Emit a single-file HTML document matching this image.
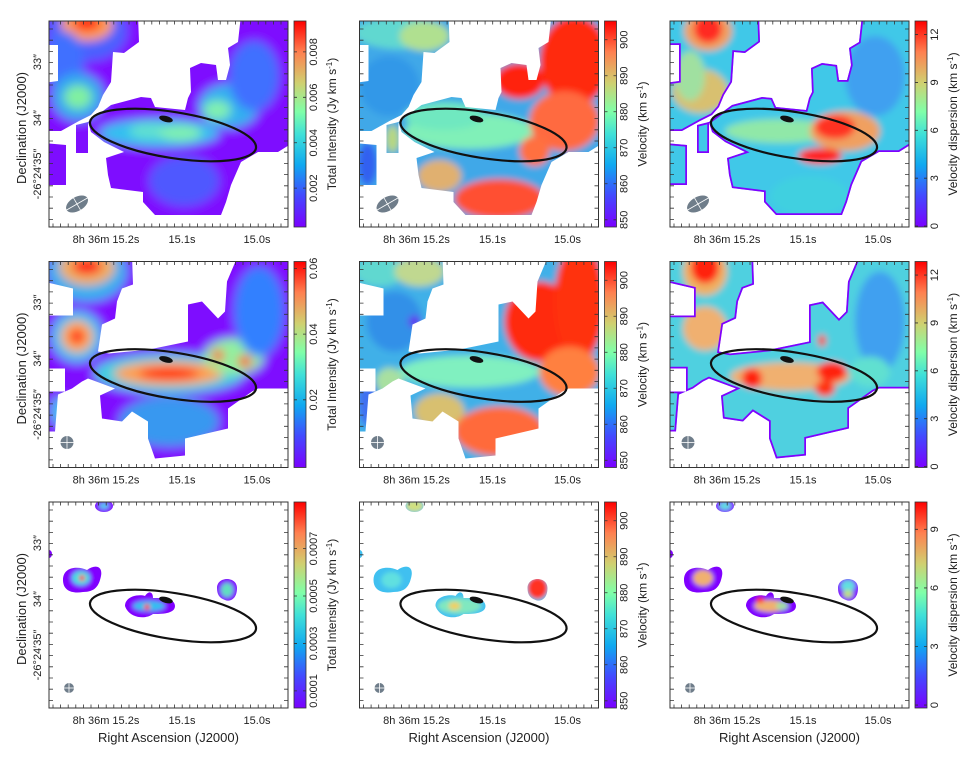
<!DOCTYPE html>
<html><head><meta charset="utf-8"><style>
html,body{margin:0;padding:0;background:#fff;}
svg{display:block;font-family:"Liberation Sans",Arial,sans-serif;}
</style></head><body>
<svg id="fig" width="969" height="761" viewBox="0 0 969 761" xmlns="http://www.w3.org/2000/svg">
<defs>
<linearGradient id="rainbow" x1="0" y1="1" x2="0" y2="0">
<stop offset="0" stop-color="#7a00ff"/><stop offset="0.15" stop-color="#4448ff"/>
<stop offset="0.3" stop-color="#10a8f0"/><stop offset="0.45" stop-color="#40e0d8"/>
<stop offset="0.56" stop-color="#80ffa8"/><stop offset="0.7" stop-color="#d0d070"/>
<stop offset="0.85" stop-color="#ff8050"/><stop offset="1" stop-color="#ff0000"/>
</linearGradient>
<filter id="blurA" x="-20%" y="-20%" width="140%" height="140%"><feGaussianBlur stdDeviation="5"/></filter>
<filter id="blurB" x="-20%" y="-20%" width="140%" height="140%"><feGaussianBlur stdDeviation="3.5"/></filter>
<filter id="blur2" x="-20%" y="-20%" width="140%" height="140%"><feGaussianBlur stdDeviation="2"/></filter>
</defs>
</svg>
<script>
// colorbar data
const intensityTicksR1 = [0.002, 0.004, 0.006, 0.008];
const intensityRangeR1 = [0.00029, 0.00936];
const intensityTicksR2 = [0.02, 0.04, 0.06];
const intensityRangeR2 = [-0.0006, 0.0621];
const intensityTicksR3 = [0.0001, 0.0003, 0.0005, 0.0007];
const intensityRangeR3 = [0.000028, 0.000896];
const velocityTicks = [850, 860, 870, 880, 890, 900];
const velocityRange = [848, 905.2];
const dispTicksR12 = [0, 3, 6, 9, 12];
const dispRangeR12 = [-0.06, 12.85];
const dispTicksR3 = [0, 3, 6, 9];
const dispRangeR3 = [-0.15, 10.4];
const raTickLabels = ["8h 36m 15.2s", "15.1s", "15.0s"];
const decTickLabels = ["33\u2033", "34\u2033", "-26\u00b024\u203235\u2033"];

const NS = "http://www.w3.org/2000/svg";
const svg = document.getElementById('fig');
function el(tag, attrs, parent){const e=document.createElementNS(NS,tag);for(const k in attrs)e.setAttribute(k,attrs[k]);(parent||svg).appendChild(e);return e;}

const X=[49,359.5,670], Y=[21,261.5,502], W=239, H=206;

const masks = [
 ["M-6,-6 H89 L90,21 L75,32 L64,31 L62,61 L54,74 L49,86 L42,94 L30,100 L12,110 L-6,110 V62 L9,60 L9,24 L-6,24 Z",
  "M27,104 L39,101 L39,132 L27,132 Z",
  "M-6,122 L17,124 L17,164 L-6,164 Z",
  "M62,84 L92,76 L102,77 L106,86 L136,89 L139,77 L142,71 L141,47 L152,42 L167,44 L169,59 L177,59 L181,44 L179,27 L189,21 L192,-6 H245 V121 L229,131 L209,131 L192,141 L182,164 L177,181 L172,194 L106,194 L94,181 L94,171 L62,167 L59,154 L57,137 L75,131 L55,121 L42,111 L39,101 Z"],
 ["M-6,-6 H83 L84,23 L73,27 L68,40 L66,57 L53,63 L49,90 L60,92 L100,88 L139,80 L139,43 L153,40 L169,57 L176,50 L178,20 L189,-6 H245 V127 L209,127 L203,130 L179,147 L179,167 L136,177 L136,194 L106,197 L99,177 L99,160 L83,150 L73,160 L53,157 L51,134 L66,127 L39,117 L33,120 L23,127 L9,133 L6,170 L-6,170 V130 L16,130 L16,107 L-6,107 V54 L24,54 L24,27 L-6,20 Z"],
 ["M46,4 a9,6 0 1,0 18,0 a9,6 0 1,0 -18,0 Z",
  "M14,78 C14,64 30,64 38,68 C46,62 54,64 52,74 C50,84 46,90 34,90 C22,92 14,88 14,78 Z",
  "M76,104 C76,94 90,92 96,94 C100,88 104,90 104,96 C112,96 126,96 126,104 C126,112 112,112 104,112 C96,118 80,116 76,104 Z",
  "M168,86 C168,74 188,74 188,86 C188,98 180,100 176,98 C170,96 168,92 168,86 Z",
  "M-3,52 a3,4 0 1,0 6,0 a3,4 0 1,0 -6,0 Z"]
];

// blobs: [cx,cy,rx,ry,color]
const panels = [
 [ {base:"#7e10ff", f:"blurA", b:[[38,10,40,30,"#4a60ff"],[38,4,26,16,"#ffa050"],[38,2,14,8,"#ff2010"],[15,40,20,30,"#4070ff"],[29,76,26,24,"#30a8f0"],[29,76,14,12,"#80f0a0"],[110,112,60,14,"#30c0f0"],[100,110,20,8,"#60e0d0"],[131,112,22,8,"#80f0b0"],[180,85,30,22,"#30b0f0"],[168,89,14,10,"#80f0b0"],[205,55,25,35,"#4070ff"],[135,160,35,25,"#5058ff"]]},
   {base:"#40a8e8", f:"blurB", b:[[40,12,45,16,"#60d8d0"],[65,15,25,15,"#b0e090"],[30,65,30,30,"#3098e8"],[8,143,10,22,"#3060f0"],[33,118,7,14,"#b8d880"],[110,110,65,18,"#80f0b8"],[85,95,40,14,"#70e8c0"],[215,40,35,45,"#ff2a10"],[160,60,25,18,"#ff2010"],[205,100,35,30,"#ff6a40"],[175,130,15,15,"#ff7040"],[80,155,22,16,"#e0b070"],[140,178,45,20,"#ff5030"]]},
   {base:"#40c8e8", f:"blurB", rim:true, b:[[38,10,24,20,"#f0a060"],[38,8,14,14,"#ff2a20"],[30,70,28,22,"#d8c070"],[20,55,15,25,"#a0e0a0"],[110,110,55,12,"#90e8a8"],[175,110,35,20,"#f0a060"],[165,106,20,12,"#ff3020"],[150,135,22,8,"#ff2020"],[205,55,30,40,"#40a0f0"],[140,175,40,20,"#40d0e0"]]} ],
 [ {base:"#7e10ff", f:"blurA", b:[[38,10,40,30,"#30b0f0"],[38,6,28,18,"#f0b060"],[38,5,15,8,"#ff1010"],[28,75,26,26,"#40c0f0"],[28,75,16,16,"#ffb050"],[28,75,8,8,"#ff2020"],[120,112,75,20,"#40d0e0"],[120,112,55,12,"#ffa050"],[120,112,30,6,"#ff2010"],[185,95,30,18,"#90f0a0"],[169,94,6,6,"#ff4020"],[196,100,7,6,"#ff4020"],[210,50,25,45,"#3080ff"],[120,160,50,25,"#3898f0"],[10,150,8,15,"#40c0f0"]]},
   {base:"#40b0e8", f:"blurB", b:[[20,10,25,15,"#60d8d0"],[60,10,25,15,"#c0d890"],[35,60,28,30,"#3090e8"],[55,60,6,6,"#6030f0"],[8,140,10,25,"#4070f0"],[30,120,14,14,"#a8e0a0"],[110,110,70,16,"#80f0c0"],[180,60,35,40,"#ff2a10"],[220,40,25,60,"#ff3010"],[210,110,30,25,"#ff8040"],[80,150,25,18,"#d8c070"],[140,170,45,25,"#ff6a3a"]]},
   {base:"#50d0e0", f:"blurB", rim:true, b:[[35,10,22,24,"#f0b060"],[35,6,14,16,"#ff2010"],[35,67,22,22,"#f0b070"],[120,115,60,14,"#f0b070"],[82,117,10,10,"#ff2010"],[162,110,15,10,"#ff2010"],[155,127,10,8,"#ff3010"],[152,79,4,6,"#ff3010"],[210,60,25,50,"#40a0f0"],[200,110,20,15,"#60e0d0"],[120,170,40,25,"#50d0e0"]]} ],
 [ {base:"#8000ff", f:"blur2", b:[[55,4,5,3,"#50d0f0"],[32,76,9,7,"#40e0e0"],[33,76,3,3,"#ff3030"],[100,104,16,5,"#30c0f0"],[98,105,3,3,"#ff3030"],[178,88,6,7,"#60e0c0"]]},
   {base:"#40c0f0", f:"blur2", b:[[55,4,9,6,"#d0e080"],[32,78,10,8,"#60e0e0"],[100,104,22,8,"#80e8c0"],[95,104,6,4,"#f0d060"],[178,86,10,11,"#ff3020"]]},
   {base:"#8000ff", f:"blur2", b:[[55,4,6,4,"#60e0e0"],[33,76,10,8,"#f0b070"],[100,104,16,6,"#f0b070"],[90,98,4,3,"#ff2020"],[112,104,6,4,"#a0e0a0"],[178,84,7,6,"#60e0e0"],[178,92,5,4,"#c0e080"]]} ]
];

const cbSpec = [
 [[intensityRangeR1,intensityTicksR1,"Total Intensity (Jy km s"],[velocityRange,velocityTicks,"Velocity (km s"],[dispRangeR12,dispTicksR12,"Velocity dispersion (km s"]],
 [[intensityRangeR2,intensityTicksR2,"Total Intensity (Jy km s"],[velocityRange,velocityTicks,"Velocity (km s"],[dispRangeR12,dispTicksR12,"Velocity dispersion (km s"]],
 [[intensityRangeR3,intensityTicksR3,"Total Intensity (Jy km s"],[velocityRange,velocityTicks,"Velocity (km s"],[dispRangeR3,dispTicksR3,"Velocity dispersion (km s"]]
];
const beams=[[28,183,12,7,-30],[18,181,6.5,6.5,0],[20,186,5,5,0]];

for(let r=0;r<3;r++){
 for(let c=0;c<3;c++){
  const x0=X[c], y0=Y[r];
  const g=el('g',{transform:`translate(${x0},${y0})`});
  
  
  const cid=`clip${r}${c}`;
  const cp=el('clipPath',{id:cid},g);
  masks[r].forEach(d=>el('path',{d:d},cp));
  const frameClip=`fclip${r}${c}`;
  const fc=el('clipPath',{id:frameClip},g);el('rect',{x:0,y:0,width:W,height:H},fc);
  const outer=el('g',{'clip-path':`url(#${frameClip})`},g);
  const cl=el('g',{'clip-path':`url(#${cid})`},outer);
  const P=panels[r][c];
  const bl=el('g',{filter:`url(#${P.f})`},cl);
  el('rect',{x:-20,y:-20,width:W+40,height:H+40,fill:P.base},bl);
  P.b.forEach(b=>el('ellipse',{cx:b[0],cy:b[1],rx:b[2],ry:b[3],fill:b[4]},bl));
  if(P.rim){masks[r].forEach(d=>el('path',{d:d,fill:'none',stroke:'#8000ff','stroke-width':3.5},cl));}
  const ell=el('ellipse',{cx:124,cy:114,rx:84,ry:23,fill:'none',stroke:'#111','stroke-width':2.2,transform:'rotate(9 124 114)'},g);
  
  
  const core=el('ellipse',{cx:117,cy:98,rx:7,ry:3,fill:'#111',transform:'rotate(15 117 98)'},g);
  
  
  const bm=beams[r];
  const bg=el('g',{transform:`translate(${bm[0]},${bm[1]}) rotate(${bm[4]})`},g);
  
  
  el('ellipse',{cx:0,cy:0,rx:bm[2],ry:bm[3],fill:'#6f7d8a'},bg);
  el('line',{x1:-bm[2],y1:0,x2:bm[2],y2:0,stroke:'#fff','stroke-width':0.8},bg);
  el('line',{x1:0,y1:-bm[3],x2:0,y2:bm[3],stroke:'#fff','stroke-width':0.8},bg);
  const fr=el('rect',{x:0,y:0,width:W,height:H,fill:'none',stroke:'#333','stroke-width':1},g);
  
  
  let tk='';
  for(let t=4;t<W;t+=7.6){tk+=`M${t},${H}v-3.5M${t},0v3.5`;}
  for(let t=8;t<H;t+=11.2){tk+=`M0,${t}h4M${W},${t}h-4`;}
  el('path',{d:tk,stroke:'#333','stroke-width':0.8,fill:'none'},g);
  [57,133,208].forEach((tx,i)=>{const t=el('text',{x:tx,y:H+16,'font-size':11,'text-anchor':'middle',fill:'#222'},g);t.textContent=raTickLabels[i];
   
   });
  if(c==0){
   [41,97,153].forEach((ty,i)=>{const t=el('text',{x:0,y:0,'font-size':11,'text-anchor':'middle',fill:'#222',transform:`translate(-8,${ty}) rotate(-90)`},g);t.textContent=decTickLabels[i];
    
    });
   const dl=el('text',{x:0,y:0,'font-size':13,'text-anchor':'middle',fill:'#222',transform:`translate(-23,${H/2+4}) rotate(-90)`},g);dl.textContent='Declination (J2000)';
   
   
  }
  if(r==2){
   const xl=el('text',{x:W/2,y:H+34,'font-size':13,'text-anchor':'middle',fill:'#222'},g);xl.textContent='Right Ascension (J2000)';
   
   
  }
  const spec=cbSpec[r][c];
  const [rng,ticks,title]=spec;
  const cb=el('g',{transform:`translate(${x0+245},${y0})`});
  
  
  el('rect',{x:0,y:0,width:12,height:H,fill:'url(#rainbow)',stroke:'#333','stroke-width':0.8},cb);
  const yS=v=>H-(v-rng[0])/(rng[1]-rng[0])*H;
  let ctk='';
  ticks.forEach(v=>{const y=yS(v);ctk+=`M0,${y}h3M12,${y}h-3`;
   const t=el('text',{x:0,y:0,'font-size':11,'text-anchor':'middle',fill:'#222',transform:`translate(23,${y}) rotate(-90)`},cb);t.textContent=String(v);
   
   });
  el('path',{d:ctk,stroke:'#333','stroke-width':0.8},cb);
  const ct=el('text',{x:0,y:0,'font-size':12,'text-anchor':'middle',fill:'#222',transform:`translate(42,${H/2}) rotate(-90)`},cb);
  
  
  ct.appendChild(document.createTextNode(title));
  const sup=el('tspan',{dy:-4,'font-size':8},ct);sup.textContent='-1';
  const cl2=el('tspan',{dy:4},ct);cl2.textContent=')';
 }
}
</script>
</body></html>
